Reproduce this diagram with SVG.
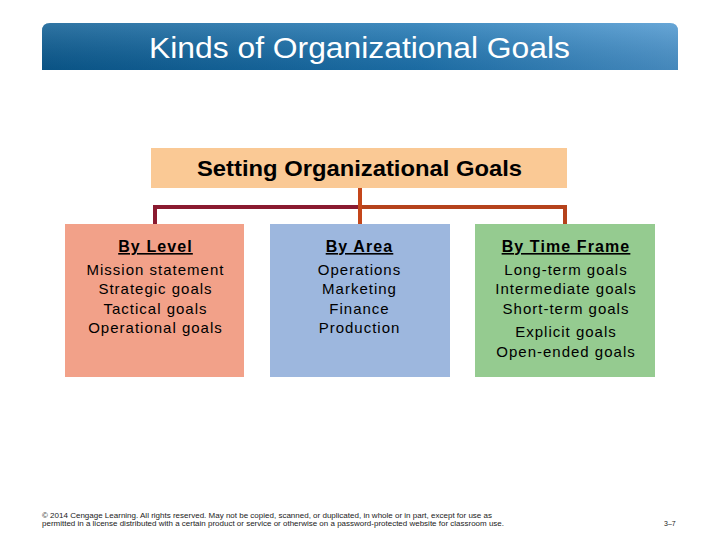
<svg xmlns="http://www.w3.org/2000/svg" width="720" height="540" viewBox="0 0 720 540">
<defs>
<linearGradient id="tb" x1="0" y1="0" x2="1" y2="0">
<stop offset="0" stop-color="#0b5c93"/>
<stop offset="0.6" stop-color="#1f77b4"/>
<stop offset="1" stop-color="#4d97d0"/>
</linearGradient>
<linearGradient id="tbv" x1="0" y1="0" x2="0" y2="1">
<stop offset="0" stop-color="#ffffff" stop-opacity="0.15"/>
<stop offset="1" stop-color="#000000" stop-opacity="0.1"/>
</linearGradient>
</defs>
<style>
text{font-family:"Liberation Sans",Arial,sans-serif;fill:#000}
.item{font-size:15px;text-anchor:middle;letter-spacing:1px}
.head{font-size:16px;font-weight:bold;text-anchor:middle;text-decoration:underline;letter-spacing:1.1px}
.foot{font-size:7px;fill:#222}
.conn{fill:none;stroke-width:4}
</style>
<rect width="720" height="540" fill="#fff"/>
<g id="title">
<path d="M42,70 V31 Q42,23 50,23 H670 Q678,23 678,31 V70 Z" fill="url(#tb)"/>
<path d="M42,70 V31 Q42,23 50,23 H670 Q678,23 678,31 V70 Z" fill="url(#tbv)"/>
<text x="149" y="58" font-size="29" textLength="421" lengthAdjust="spacingAndGlyphs" style="fill:#fff">Kinds of Organizational Goals</text>
</g>
<g id="connectors">
<path class="conn" d="M155,224 V207 H360" stroke="#8a1a30"/>
<path class="conn" d="M360,207 H565 V224" stroke="#b5421c"/>
<path class="conn" d="M360,188 V224" stroke="#c4461a"/>
</g>
<g id="root">
<rect x="151" y="148" width="416" height="40" fill="#fac995"/>
<text x="197" y="176" font-size="22" font-weight="bold" textLength="325" lengthAdjust="spacingAndGlyphs">Setting Organizational Goals</text>
</g>
<g id="level">
<rect x="65" y="224" width="179" height="153" fill="#f2a189"/>
<text class="head" x="155.5" y="252">By Level</text>
<text class="item" x="155.5" y="275">Mission statement</text>
<text class="item" x="155.5" y="294">Strategic goals</text>
<text class="item" x="155.5" y="314">Tactical goals</text>
<text class="item" x="155.5" y="333">Operational goals</text>
</g>
<g id="area">
<rect x="270" y="224" width="180" height="153" fill="#9db7de"/>
<text class="head" x="359.5" y="252">By Area</text>
<text class="item" x="359.5" y="275">Operations</text>
<text class="item" x="359.5" y="294">Marketing</text>
<text class="item" x="359.5" y="314">Finance</text>
<text class="item" x="359.5" y="333">Production</text>
</g>
<g id="time">
<rect x="475" y="224" width="180" height="153" fill="#95cb90"/>
<text class="head" x="566" y="252">By Time Frame</text>
<text class="item" x="566" y="275">Long-term goals</text>
<text class="item" x="566" y="294">Intermediate goals</text>
<text class="item" x="566" y="314">Short-term goals</text>
<text class="item" x="566" y="337">Explicit goals</text>
<text class="item" x="566" y="357">Open-ended goals</text>
</g>
<g id="footer">
<text class="foot" x="42" y="518" textLength="450" lengthAdjust="spacingAndGlyphs">© 2014 Cengage Learning. All rights reserved. May not be copied, scanned, or duplicated, in whole or in part, except for use as</text>
<text class="foot" x="42" y="526" textLength="462" lengthAdjust="spacingAndGlyphs">permitted in a license distributed with a certain product or service or otherwise on a password-protected website for classroom use.</text>
<text class="foot" x="664" y="526">3–7</text>
</g>
</svg>
